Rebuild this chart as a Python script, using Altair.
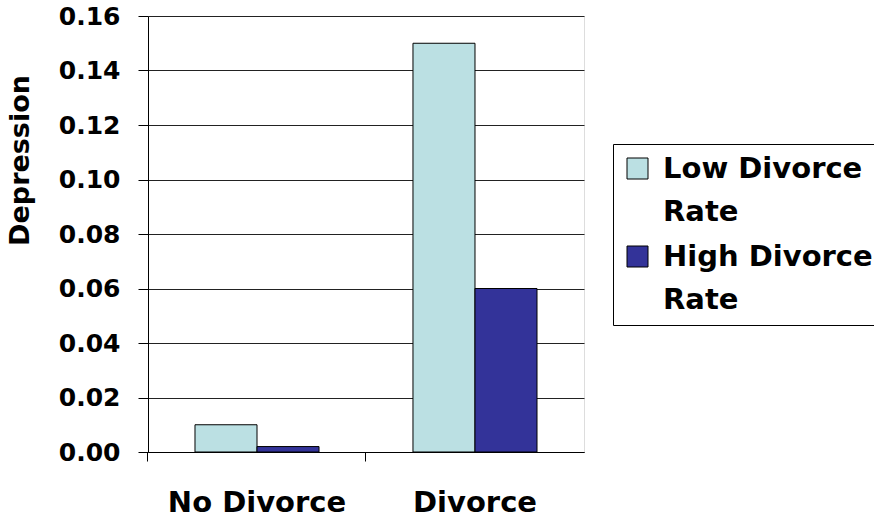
import altair as alt
import pandas as pd

categories = ["No Divorce", "Divorce"]
series = ["Low Divorce Rate", "High Divorce Rate"]
low_rate = [0.010, 0.150]
high_rate = [0.002, 0.060]
colors = ["#BBE0E3", "#333399"]
y_ticks = [0.00, 0.02, 0.04, 0.06, 0.08, 0.10, 0.12, 0.14, 0.16]

rows = []
for i, c in enumerate(categories):
    rows.append({"Category": c, "Series": series[0], "Depression": low_rate[i]})
    rows.append({"Category": c, "Series": series[1], "Depression": high_rate[i]})
df = pd.DataFrame(rows)

FONT = "DejaVu Sans"

chart = alt.Chart(df).mark_bar(stroke="black", strokeWidth=1).encode(
    x=alt.X("Category:N", sort=categories,
            scale=alt.Scale(paddingInner=0.431, paddingOuter=0.2156),
            axis=alt.Axis(title=None, labelAngle=0, bandPosition=-0.379,
                          labelFont=FONT, labelFontSize=29, labelFontWeight="bold",
                          labelColor="black", labelPadding=27, tickSize=9,
                          tickColor="black", domainColor="black", grid=False)),
    xOffset=alt.XOffset("Series:N", sort=series,
                        scale=alt.Scale(paddingInner=0, paddingOuter=0)),
    y=alt.Y("Depression:Q",
            scale=alt.Scale(domain=[0, 0.16], nice=False, zero=True),
            axis=alt.Axis(title="Depression", values=y_ticks, format=".2f",
                          labelFont=FONT, labelFontSize=25, labelFontWeight="bold",
                          labelColor="black", labelPadding=18, tickSize=10,
                          tickColor="black", domainColor="black",
                          grid=True, gridColor="#222222", gridWidth=1, gridOpacity=1,
                          titleFont=FONT, titleFontSize=27, titleFontWeight="bold",
                          titleColor="black", titleX=-128, titleY=144,
                          titleAlign="center", titleBaseline="middle", titleAngle=-90)),
    color=alt.Color("Series:N", sort=series,
                    scale=alt.Scale(domain=series, range=colors),
                    legend=alt.Legend(title=None, orient="none", legendX=465, legendY=128,
                                      symbolType="square", symbolSize=441,
                                      symbolStrokeColor="black", symbolStrokeWidth=1,
                                      labelFont=FONT, labelFontSize=29, labelFontWeight="bold",
                                      labelColor="black",
                                      labelExpr="[replace(datum.label, ' Rate', ''), 'Rate']",
                                      labelOffset=11, labelLimit=0, padding=10,
                                      strokeColor="black", fillColor="white",
                                      rowPadding=15)),
).properties(
    width=436, height=436,
    autosize=alt.AutoSizeParams(type="none"),
    padding={"left": 148, "top": 16, "right": 290, "bottom": 69},
).configure_view(
    stroke="black", strokeWidth=1
).configure(
    background="white",
    style={"guide-label": {"lineHeight": 43}},
)

chart.save("out.html", embed_options={"renderer": "svg", "actions": False})
